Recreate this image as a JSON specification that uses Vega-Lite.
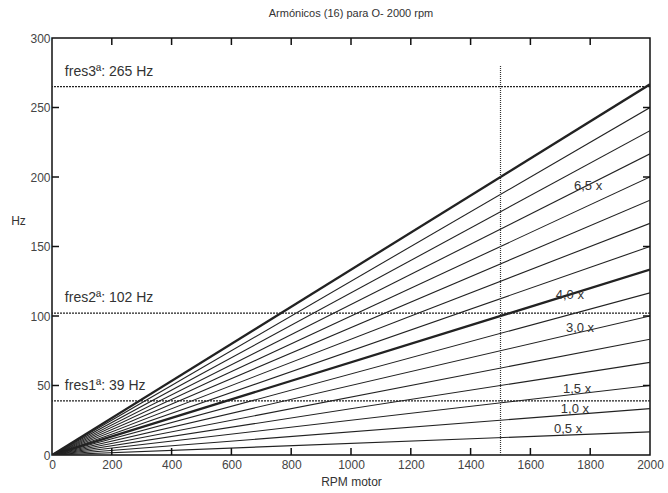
{
  "$schema": "https://vega.github.io/schema/vega-lite/v6.json",
  "width": 598,
  "height": 417,
  "autosize": {"type": "none"},
  "padding": {"left": 52, "top": 38, "right": 18, "bottom": 38},
  "background": "white",
  "title": {"text": "Armónicos (16) para O- 2000 rpm", "font": "Liberation Sans", "fontSize": 11, "fontWeight": "normal", "color": "#333", "anchor": "middle", "offset": 13},
  "config": {
    "view": {"stroke": "#111", "strokeWidth": 1.5},
    "axis": {"labelFont": "Liberation Sans", "titleFont": "Liberation Sans", "labelFontSize": 12, "titleFontSize": 12, "titleFontWeight": "normal", "labelColor": "#444", "titleColor": "#333", "grid": false, "domain": false, "ticks": false}
  },
  "resolve": {"axis": {"x": "independent", "y": "independent"}},
  "datasets": {
    "harm": [
      {"order": 0.5, "rpm": 0, "hz": 0}, {"order": 0.5, "rpm": 2000, "hz": 16.67},
      {"order": 1, "rpm": 0, "hz": 0}, {"order": 1, "rpm": 2000, "hz": 33.33},
      {"order": 1.5, "rpm": 0, "hz": 0}, {"order": 1.5, "rpm": 2000, "hz": 50},
      {"order": 2, "rpm": 0, "hz": 0}, {"order": 2, "rpm": 2000, "hz": 66.67},
      {"order": 2.5, "rpm": 0, "hz": 0}, {"order": 2.5, "rpm": 2000, "hz": 83.33},
      {"order": 3, "rpm": 0, "hz": 0}, {"order": 3, "rpm": 2000, "hz": 100},
      {"order": 3.5, "rpm": 0, "hz": 0}, {"order": 3.5, "rpm": 2000, "hz": 116.67},
      {"order": 4, "rpm": 0, "hz": 0}, {"order": 4, "rpm": 2000, "hz": 133.33},
      {"order": 4.5, "rpm": 0, "hz": 0}, {"order": 4.5, "rpm": 2000, "hz": 150},
      {"order": 5, "rpm": 0, "hz": 0}, {"order": 5, "rpm": 2000, "hz": 166.67},
      {"order": 5.5, "rpm": 0, "hz": 0}, {"order": 5.5, "rpm": 2000, "hz": 183.33},
      {"order": 6, "rpm": 0, "hz": 0}, {"order": 6, "rpm": 2000, "hz": 200},
      {"order": 6.5, "rpm": 0, "hz": 0}, {"order": 6.5, "rpm": 2000, "hz": 216.67},
      {"order": 7, "rpm": 0, "hz": 0}, {"order": 7, "rpm": 2000, "hz": 233.33},
      {"order": 7.5, "rpm": 0, "hz": 0}, {"order": 7.5, "rpm": 2000, "hz": 250},
      {"order": 8, "rpm": 0, "hz": 0}, {"order": 8, "rpm": 2000, "hz": 266.67}
    ],
    "fres": [
      {"name": "fres3ª: 265 Hz", "hz": 265},
      {"name": "fres2ª: 102 Hz", "hz": 102},
      {"name": "fres1ª: 39 Hz", "hz": 39}
    ],
    "labels": [
      {"label": "6,5 x", "rpm": 1793, "hz": 193.5},
      {"label": "4,0 x", "rpm": 1732, "hz": 115},
      {"label": "3,0 x", "rpm": 1766, "hz": 91.4},
      {"label": "1,5 x", "rpm": 1756, "hz": 47.5},
      {"label": "1,0 x", "rpm": 1749, "hz": 33},
      {"label": "0,5 x", "rpm": 1726, "hz": 18.7}
    ],
    "vline": [{"rpm": 1500, "hz0": 0, "hz1": 280}],
    "xticks": [{"v": 200}, {"v": 400}, {"v": 600}, {"v": 800}, {"v": 1000}, {"v": 1200}, {"v": 1400}, {"v": 1600}, {"v": 1800}],
    "yticks": [{"v": 50}, {"v": 100}, {"v": 150}, {"v": 200}, {"v": 250}]
  },
  "layer": [
    {
      "data": {"name": "harm"},
      "mark": {"type": "line", "color": "#222", "clip": true},
      "encoding": {
        "x": {"field": "rpm", "type": "quantitative", "scale": {"domain": [0, 2000], "nice": false}, "axis": {"orient": "bottom", "title": "RPM motor", "format": "d", "values": [0,200,400,600,800,1000,1200,1400,1600,1800,2000], "labelPadding": 4, "titlePadding": 6, "labelFlush": false}},
        "y": {"field": "hz", "type": "quantitative", "scale": {"domain": [0, 300], "nice": false}, "axis": {"orient": "left", "title": "Hz", "titleAngle": 0, "titleX": -34, "titleY": 182, "titleAlign": "center", "titleBaseline": "middle", "values": [0,50,100,150,200,250,300], "labelPadding": 2}},
        "detail": {"field": "order", "type": "quantitative"},
        "strokeWidth": {"condition": {"test": "datum.order === 4 || datum.order === 8", "value": 2.3}, "value": 1.1}
      }
    },
    {
      "data": {"name": "fres"},
      "mark": {"type": "rule", "color": "#222", "strokeWidth": 1.3, "strokeDash": [2, 1]},
      "encoding": {
        "y": {"field": "hz", "type": "quantitative", "axis": null}
      }
    },
    {
      "data": {"name": "fres"},
      "mark": {"type": "text", "align": "left", "baseline": "middle", "dy": -15, "font": "Liberation Sans", "fontSize": 14, "color": "#333"},
      "encoding": {
        "x": {"datum": 43, "type": "quantitative", "axis": null},
        "y": {"field": "hz", "type": "quantitative", "axis": null},
        "text": {"field": "name"}
      }
    },
    {
      "data": {"name": "vline"},
      "mark": {"type": "rule", "color": "#333", "strokeWidth": 1.2, "strokeDash": [1, 1]},
      "encoding": {
        "x": {"field": "rpm", "type": "quantitative", "axis": null},
        "y": {"field": "hz0", "type": "quantitative", "axis": null},
        "y2": {"field": "hz1"}
      }
    },
    {
      "data": {"name": "xticks"},
      "mark": {"type": "tick", "orient": "vertical", "size": 14, "thickness": 1.5, "color": "#111", "opacity": 1, "clip": true},
      "encoding": {
        "x": {"field": "v", "type": "quantitative", "axis": null},
        "y": {"datum": 0, "type": "quantitative", "axis": null}
      }
    },
    {
      "data": {"name": "xticks"},
      "mark": {"type": "tick", "orient": "vertical", "size": 14, "thickness": 1.5, "color": "#111", "opacity": 1, "clip": true},
      "encoding": {
        "x": {"field": "v", "type": "quantitative", "axis": null},
        "y": {"datum": 300, "type": "quantitative", "axis": null}
      }
    },
    {
      "data": {"name": "yticks"},
      "mark": {"type": "tick", "orient": "horizontal", "size": 14, "thickness": 1.5, "color": "#111", "opacity": 1, "clip": true},
      "encoding": {
        "y": {"field": "v", "type": "quantitative", "axis": null},
        "x": {"datum": 0, "type": "quantitative", "axis": null}
      }
    },
    {
      "data": {"name": "yticks"},
      "mark": {"type": "tick", "orient": "horizontal", "size": 14, "thickness": 1.5, "color": "#111", "opacity": 1, "clip": true},
      "encoding": {
        "y": {"field": "v", "type": "quantitative", "axis": null},
        "x": {"datum": 2000, "type": "quantitative", "axis": null}
      }
    },
    {
      "data": {"name": "labels"},
      "mark": {"type": "text", "align": "center", "baseline": "middle", "font": "Liberation Sans", "fontSize": 13, "color": "#333"},
      "encoding": {
        "x": {"field": "rpm", "type": "quantitative", "axis": null},
        "y": {"field": "hz", "type": "quantitative", "axis": null},
        "text": {"field": "label"}
      }
    }
  ]
}
